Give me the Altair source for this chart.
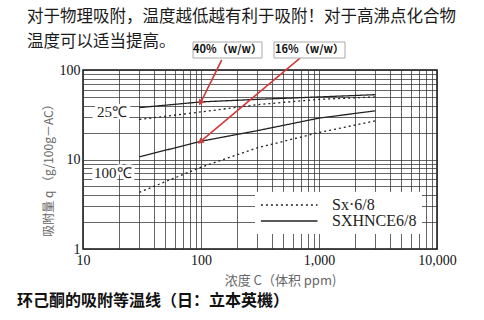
import altair as alt
import pandas as pd

# ---- data ----
conc = [30, 100, 300, 1000, 3000]                 # ppm
sxhnce_25 = [38, 44, 47, 50, 53]
sx_25 = [28, 34, 41, 47, 50]
sxhnce_100 = [10.7, 16, 21, 29, 35]
sx_100 = [4.3, 8.2, 13.5, 20, 27]

products = ["Sx·6/8", "SXHNCE6/8"]
temp_labels = ["25℃", "100℃"]
temp_label_x = [17.6, 17.9]
temp_label_y = [34, 7.1]

arrow_labels = ["40%（w/w）", "16%（w/w）"]
arrow_start_x = [150, 690]
arrow_start_y = [130, 136]
arrow_end_x = [100, 100]
arrow_end_y = [44, 16]
arrow_angle = [211, 231]

x_ticks = [10, 100, 1000, 10000]
y_ticks = [1, 10, 100]
x_grid = [m * d for d in [10, 100, 1000] for m in range(1, 10)] + [10000]
y_grid = [m * d for d in [1, 10] for m in range(1, 10)] + [100]

title_lines = ["对于物理吸附，温度越低越有利于吸附！对于高沸点化合物", "温度可以适当提高。"]
caption = "环己酮的吸附等温线（日：立本英機）"

# ---- tables ----
rows = []
for series, prod, temp in [(sxhnce_25, products[1], "25"), (sx_25, products[0], "25"),
                           (sxhnce_100, products[1], "100"), (sx_100, products[0], "100")]:
    for c, q in zip(conc, series):
        rows.append({"c": c, "q": q, "product": prod, "temp": temp})
lines_df = pd.DataFrame(rows)
labels_df = pd.DataFrame({"t": temp_labels, "x": temp_label_x, "y": temp_label_y})
arrows_df = pd.DataFrame({"label": arrow_labels, "x": arrow_start_x, "y": arrow_start_y,
                          "x2": arrow_end_x, "y2": arrow_end_y, "angle": arrow_angle})

W, H = 354, 179
SERIF = "Liberation Serif"
CJK = "Noto Sans CJK SC"

xscale = alt.Scale(type="log", domain=[10, 10000], nice=False)
yscale = alt.Scale(type="log", domain=[1, 100], nice=False)

x_axis = alt.Axis(values=x_grid, grid=True, ticks=False, domain=False,
                  labelExpr="indexof([10,100,1000,10000], datum.value) >= 0 ? format(datum.value, ',') : ''",
                  labelFont=SERIF, labelFontSize=14, labelColor="#111", labelPadding=4,
                  labelFlush=False, labelOverlap=False,
                  title="浓度  C（体积 ppm)", titleFont=CJK, titleFontSize=13,
                  titleFontWeight="normal", titleColor="#666", titleX=197, titleY=31,
                  titleBaseline="middle", titleAnchor="middle")
y_axis = alt.Axis(values=y_grid, grid=True, ticks=False, domain=False,
                  labelExpr="indexof([1,10,100], datum.value) >= 0 ? format(datum.value, ',') : ''",
                  labelFont=SERIF, labelFontSize=14, labelColor="#111", labelPadding=3,
                  labelFlush=False, labelOverlap=False,
                  title="吸附量 q （g/100g－AC）", titleFont=CJK, titleFontSize=12,
                  titleFontWeight="normal", titleColor="#666", titleX=-35, titleY=97,
                  titleBaseline="middle", titleAnchor="middle")

base = alt.Chart(lines_df)

lines = base.mark_line(color="#222", strokeWidth=1.3).encode(
    x=alt.X("c:Q", scale=xscale, axis=x_axis),
    y=alt.Y("q:Q", scale=yscale, axis=y_axis),
    strokeDash=alt.StrokeDash("product:N",
                              scale=alt.Scale(domain=products, range=[[2, 3], [1, 0]]),
                              legend=alt.Legend(orient="none", legendX=172, legendY=122,
                                                fillColor="white", title=None,
                                                symbolType="M-1,0H7", symbolSize=200,
                                                symbolStrokeWidth=1.3, symbolStrokeColor="#222",
                                                labelFont=SERIF, labelFontSize=16,
                                                labelColor="#222", labelOffset=56,
                                                padding=5, rowPadding=0)),
    detail="temp:N",
)

halo = alt.Chart(labels_df).mark_text(font=SERIF, fontSize=15, stroke="white",
                                      strokeWidth=6, fill="white").encode(
    x=alt.X("x:Q", scale=xscale), y=alt.Y("y:Q", scale=yscale), text="t:N")
temp_text = alt.Chart(labels_df).mark_text(font=SERIF, fontSize=15, color="#222").encode(
    x=alt.X("x:Q", scale=xscale), y=alt.Y("y:Q", scale=yscale), text="t:N")

RED = "#d23a3a"
arrow_lines = alt.Chart(arrows_df).mark_rule(color=RED, strokeWidth=1.6).encode(
    x=alt.X("x:Q", scale=xscale), y=alt.Y("y:Q", scale=yscale),
    x2="x2:Q", y2="y2:Q")
arrow_heads = alt.Chart(arrows_df).mark_point(shape="triangle", filled=True, color=RED,
                                              size=45, opacity=1).encode(
    x=alt.X("x2:Q", scale=xscale), y=alt.Y("y2:Q", scale=yscale),
    angle=alt.Angle("angle:Q", scale=None))

def box(label, x0, x1):
    d = pd.DataFrame({"t": [label]})
    r = alt.Chart(d).mark_rect(fill="white", stroke="#aaa", strokeWidth=1).encode(
        x=alt.value(x0), x2=alt.value(x1), y=alt.value(-28), y2=alt.value(-12))
    t = alt.Chart(d).mark_text(font=CJK, fontSize=11, fontWeight="bold", color="#111").encode(
        x=alt.value((x0 + x1) / 2), y=alt.value(-20), text="t:N")
    return r + t

boxes = box(arrow_labels[0], 110, 179) + box(arrow_labels[1], 191, 262)

title1 = alt.Chart(pd.DataFrame({"t": [title_lines[0]]})).mark_text(
    font=CJK, fontSize=16.5, align="left", baseline="middle", color="#1a1a1a").encode(
    x=alt.value(-56), y=alt.value(-53), text="t:N")
title2 = alt.Chart(pd.DataFrame({"t": [title_lines[1]]})).mark_text(
    font=CJK, fontSize=16.5, align="left", baseline="middle", color="#1a1a1a").encode(
    x=alt.value(-56), y=alt.value(-28), text="t:N")
cap = alt.Chart(pd.DataFrame({"t": [caption]})).mark_text(
    font=CJK, fontSize=16, fontWeight="bold", align="left", baseline="middle",
    color="#111").encode(x=alt.value(-66), y=alt.value(231), text="t:N")

chart = alt.layer(
    lines, halo, temp_text, arrow_lines, arrow_heads, boxes, title1, title2, cap
).properties(
    width=W, height=H,
    autosize=alt.AutoSizeParams(type="none"),
    padding={"left": 83, "top": 70, "right": 47, "bottom": 71},
    background="white",
).configure_view(stroke="#111", strokeWidth=1.5).configure_axis(
    gridColor="#333", gridWidth=1, gridOpacity=0.75)

chart.save("out.html", embed_options={"renderer": "svg", "actions": False})
